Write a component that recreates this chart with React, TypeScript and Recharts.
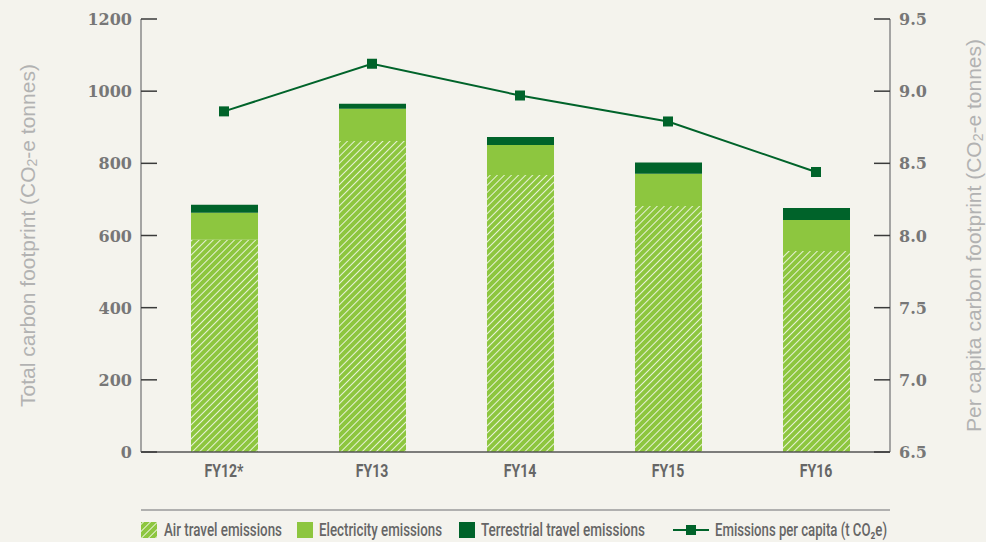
import { Bar, ComposedChart, Line, XAxis, YAxis } from "recharts";

const categories = ["FY12*", "FY13", "FY14", "FY15", "FY16"];
const airTravel = [588, 862, 768, 682, 557];
const electricity = [75, 89, 83, 89, 86];
const terrestrial = [22, 14, 22, 31, 33];
const perCapita = [8.86, 9.19, 8.97, 8.79, 8.44];
const leftTicks = [0, 200, 400, 600, 800, 1000, 1200];
const rightTicks = [6.5, 7, 7.5, 8, 8.5, 9, 9.5];

const data = categories.map((name, i) => ({
  name,
  air: airTravel[i],
  elec: electricity[i],
  terr: terrestrial[i],
  perCapita: perCapita[i],
}));

const BG = "#f4f3ed";
const LIGHT = "#8dc63f";
const DARK = "#00632a";
const SANS = "Roboto, 'Liberation Sans', sans-serif";
const SERIF = "'DejaVu Serif', serif";
const TICK_MARGIN = 9;

function SideTick({ x, y, payload, side }: any) {
  const left = side === "left";
  const ax = left ? x + TICK_MARGIN : x - TICK_MARGIN;
  const x2 = left ? ax + 16 : ax - 16;
  const label = left ? String(payload.value) : Number(payload.value).toFixed(1);
  return (
    <g>
      <line x1={ax} x2={x2} y1={y} y2={y} stroke="#3a3a3a" strokeWidth={1.5} />
      <text
        x={x} y={y} dy={6} textAnchor={left ? "end" : "start"}
        fontFamily={SERIF} fontWeight="bold" fontSize={16} fill="#777"
      >
        {label}
      </text>
    </g>
  );
}

function CategoryTick({ x, y, payload }: any) {
  return (
    <text
      transform={`translate(${x} ${y + 17}) scale(0.74 1)`} textAnchor="middle"
      fontFamily={SANS} fontWeight="bold" fontSize={19} fill="#666"
    >
      {payload.value}
    </text>
  );
}

function axisTitle(text: string, offset: number) {
  return ({ viewBox }: any) => {
    const cx = viewBox.x + offset;
    const cy = viewBox.y + viewBox.height / 2;
    return (
      <text
        x={cx} y={cy} transform={`rotate(-90 ${cx} ${cy})`} textAnchor="middle"
        dominantBaseline="central" fontFamily="'Liberation Sans', sans-serif"
        fontSize={21} fill="#b2b2b2"
      >
        {text} (CO<tspan dy={5} fontSize={14}>2</tspan><tspan dy={-5}>-e tonnes)</tspan>
      </text>
    );
  };
}

function Square({ cx, cy }: any) {
  if (cx == null || cy == null) return null;
  return <rect x={cx - 5} y={cy - 5} width={10} height={10} fill={DARK} />;
}

const legendItems = [
  { label: "Air travel emissions", kind: "hatch", icon: 141, text: 164, len: 118 },
  { label: "Electricity emissions", kind: "light", icon: 297, text: 319, len: 123 },
  { label: "Terrestrial travel emissions", kind: "dark", icon: 459, text: 481, len: 164 },
  { label: "Emissions per capita (t CO\u2082e)", kind: "line", icon: 673, text: 715, len: 172 },
];

function HatchDef({ id }: { id: string }) {
  return (
    <pattern id={id} width={5} height={5} patternUnits="userSpaceOnUse" patternTransform="rotate(45)">
      <rect width={5} height={5} fill={LIGHT} />
      <line x1={0} y1={0} x2={0} y2={5} stroke="#f3f7ea" strokeWidth={1.8} />
    </pattern>
  );
}

export default function App() {
  return (
    <div style={{ position: "absolute", left: 0, top: 0, width: 986, height: 542, background: BG }}>
      <ComposedChart width={986} height={542} data={data} margin={{ top: 19, right: 0, bottom: 60, left: 0 }}>
        <defs>
          <HatchDef id="hatch" />
        </defs>
        <XAxis
          dataKey="name" height={30} padding={{ left: 9, right: 0 }} tickLine={false}
          axisLine={{ stroke: "#555", strokeWidth: 1.5 }} tick={<CategoryTick />} interval={0}
        />
        <YAxis
          yAxisId="left" orientation="left" width={141} domain={[0, 1200]} ticks={leftTicks}
          tickSize={0} tickMargin={TICK_MARGIN} axisLine={{ stroke: "#8a8a8a", strokeWidth: 1.5 }}
          tick={<SideTick side="left" />} interval={0}
          label={{ content: axisTitle("Total carbon footprint", 27) }}
        />
        <YAxis
          yAxisId="right" orientation="right" width={96} domain={[6.5, 9.5]} ticks={rightTicks}
          tickSize={0} tickMargin={TICK_MARGIN} axisLine={{ stroke: "#8a8a8a", strokeWidth: 1.5 }}
          tick={<SideTick side="right" />} interval={0}
          label={{ content: axisTitle("Per capita carbon footprint", 83) }}
        />
        <Bar yAxisId="left" dataKey="air" stackId="a" fill="url(#hatch)" barSize={67} isAnimationActive={false} />
        <Bar yAxisId="left" dataKey="elec" stackId="a" fill={LIGHT} barSize={67} isAnimationActive={false} />
        <Bar yAxisId="left" dataKey="terr" stackId="a" fill={DARK} barSize={67} isAnimationActive={false} />
        <Line
          yAxisId="right" dataKey="perCapita" stroke={DARK} strokeWidth={2}
          dot={<Square />} activeDot={false} isAnimationActive={false}
        />
      </ComposedChart>
      <svg width={986} height={542} style={{ position: "absolute", left: 0, top: 0, pointerEvents: "none" }}>
        <defs>
          <HatchDef id="hatchIcon" />
        </defs>
        <line x1={141} x2={890} y1={510} y2={510} stroke="#9a9a9a" strokeWidth={1.5} />
        {legendItems.map((it) => (
          <g key={it.label}>
            {it.kind === "line" ? (
              <g>
                <line x1={it.icon} x2={it.icon + 36} y1={530} y2={530} stroke={DARK} strokeWidth={2} />
                <rect x={it.icon + 13} y={525} width={10} height={10} fill={DARK} />
              </g>
            ) : (
              <rect
                x={it.icon} y={522} width={16} height={16}
                fill={it.kind === "hatch" ? "url(#hatchIcon)" : it.kind === "light" ? LIGHT : DARK}
              />
            )}
            <text
              x={it.text} y={536} textLength={it.len} lengthAdjust="spacingAndGlyphs"
              fontFamily={SANS} fontSize={18} fontWeight={500} fill="#666"
            >
              {it.label}
            </text>
          </g>
        ))}
      </svg>
    </div>
  );
}
